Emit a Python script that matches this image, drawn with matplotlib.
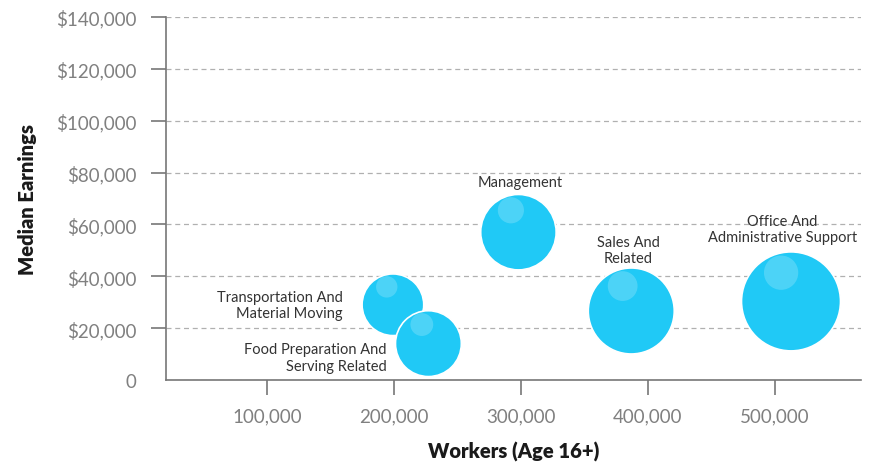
from matplotlib import pyplot as plt
from matplotlib import ticker as ticker
from matplotlib import transforms as mtransforms
import numpy as np

# Data
occupations = ["Transportation And\nMaterial Moving",
               "Food Preparation And\nServing Related",
               "Management",
               "Sales And\nRelated",
               "Office And\nAdministrative Support"]
workers  = [199000, 227000, 298000, 387000, 513000]
earnings = [29000, 14000, 57000, 26600, 30300]

x_ticks = [100000, 200000, 300000, 400000, 500000]
y_ticks = [0, 20000, 40000, 60000, 80000, 100000, 120000, 140000]

plt.rcParams['font.family'] = ['Lato', 'DejaVu Sans']

fig = plt.figure(figsize=(8.81, 4.64), dpi=100)
ax = fig.add_axes([0.1884, 0.179, 0.7886, 0.7822])

sizes = np.array(workers) * 0.0099
ax.scatter(workers, earnings, s=sizes, color='#20c9f6', edgecolors='white',
           linewidths=1.2, zorder=3)

# soft glossy highlight near the top of every bubble
for wx, ey, s in zip(workers, earnings, sizes):
    r_pt = np.sqrt(s) / 2
    off = mtransforms.ScaledTranslation(-r_pt * 0.2 / 72, r_pt * 0.58 / 72, fig.dpi_scale_trans)
    ax.scatter([wx], [ey], s=s * 0.12, color='white', alpha=0.2,
               edgecolors='none', transform=ax.transData + off, zorder=5)

# labels
lab_kw = dict(fontsize=10.5, color='#333333', linespacing=1.2, zorder=6)
ax.annotate(occupations[0], (workers[0], earnings[0]), xytext=(-36, 0),
            textcoords='offset points', ha='right', va='center', **lab_kw)
ax.annotate(occupations[1], (workers[1], earnings[1]), xytext=(-30, -10),
            textcoords='offset points', ha='right', va='center', **lab_kw)
ax.annotate(occupations[2], (workers[2], earnings[2]), xytext=(1, 36),
            textcoords='offset points', ha='center', va='center', **lab_kw)
ax.annotate(occupations[3], (workers[3], earnings[3]), xytext=(-2, 44),
            textcoords='offset points', ha='center', va='center', **lab_kw)
ax.annotate(occupations[4], (workers[4], earnings[4]), xytext=(-6, 52),
            textcoords='offset points', ha='center', va='center', **lab_kw)

ax.set_xlim(20000, 568000)
ax.set_ylim(0, 140000)
ax.set_xticks(x_ticks)
ax.set_yticks(y_ticks)
ax.xaxis.set_major_formatter(ticker.FuncFormatter(lambda v, p: f"{v:,.0f}"))
ax.yaxis.set_major_formatter(ticker.FuncFormatter(lambda v, p: "0" if v == 0 else f"${v:,.0f}"))

ax.grid(axis='y', linestyle=(0, (4, 3)), color='#b0b0b0', linewidth=0.9)
ax.set_axisbelow(True)
for side in ['top', 'right']:
    ax.spines[side].set_visible(False)
for side in ['left', 'bottom']:
    ax.spines[side].set_color('#777777')
    ax.spines[side].set_linewidth(1.2)
ax.spines['bottom'].set_zorder(7)

ax.tick_params(axis='both', colors='#777777', labelcolor='#808080', labelsize=13.5,
               length=11, width=1.2)
ax.tick_params(axis='y', pad=10)
ax.tick_params(axis='x', pad=9)
ax.yaxis.get_major_ticks()[0].tick1line.set_visible(False)

ax.set_xlabel("Workers (Age 16+)", fontsize=14.5, fontweight='heavy', color='#1a1a1a', labelpad=12)
ax.set_ylabel("Median Earnings", fontsize=14.5, fontweight='heavy', color='#1a1a1a', labelpad=14)

fig.savefig("out.png", dpi=100)
